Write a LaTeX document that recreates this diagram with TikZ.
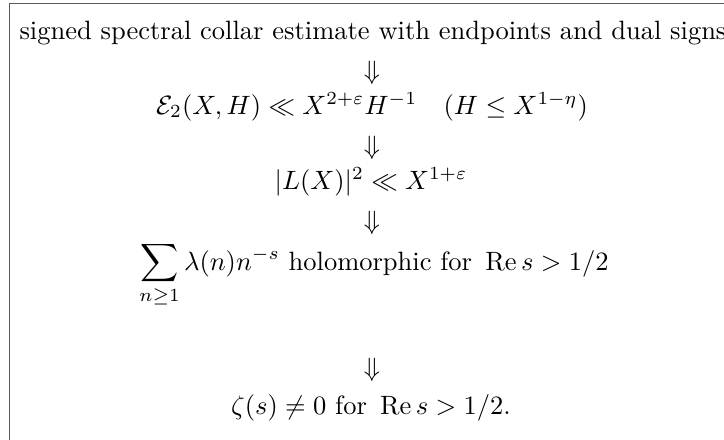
\documentclass[tikz,border=0pt]{standalone}
\usepackage{amsmath,amssymb}
\begin{document}
\begin{tikzpicture}[x=0.3774pt,y=-0.3774pt]
    \tikzset{
        claim/.style={inner sep=0pt, anchor=base},
        implies/.style={inner sep=0pt}
    }

    \useasboundingbox (0,0) rectangle (724,439);
    \clip (0,0) rectangle (724,439);
    \draw[gray!70!black] (9.5,3.5) rectangle (760,470);

    \node[claim, anchor=base west] (c0) at (19,39) {signed spectral collar estimate with endpoints and dual signs};
    \node[implies] (d1) at (372,73) {$\Downarrow$};
    \node[claim] (c1) at (372,114) {$\mathcal{E}_2(X,H)\ll X^{2+\varepsilon}H^{-1}\quad(H\le X^{1-\eta})$};
    \node[implies] (d2) at (372,148) {$\Downarrow$};
    \node[claim] (c2) at (371,189) {$|L(X)|^2\ll X^{1+\varepsilon}$};
    \node[implies] (d3) at (372,223) {$\Downarrow$};
    \node[claim] (c3) at (374,270) {$\displaystyle\sum_{n\ge 1}\lambda(n)n^{-s}\text{ holomorphic for }\operatorname{Re}s>1/2$};
    \node[implies] (d4) at (372,370) {$\Downarrow$};
    \node[claim] (c4) at (371,414) {$\zeta(s)\neq 0\text{ for }\operatorname{Re}s>1/2.$};
\end{tikzpicture}
\end{document}
